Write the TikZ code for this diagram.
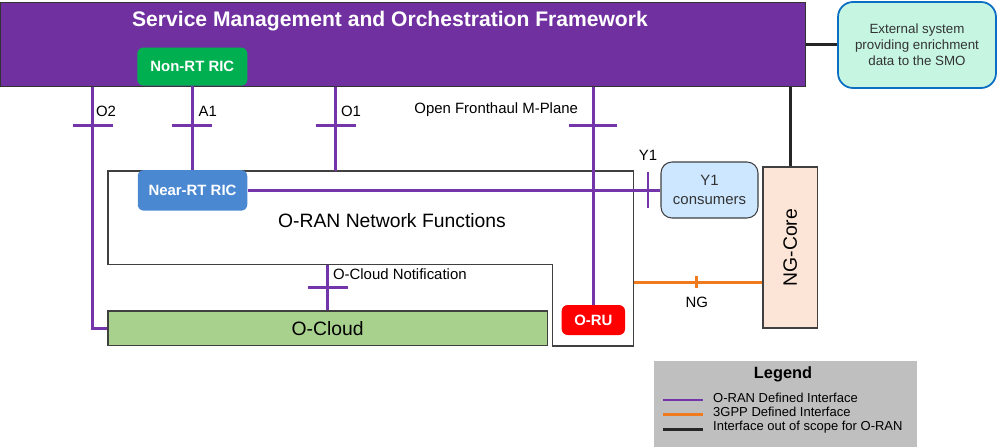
\documentclass[tikz,border=0pt]{standalone}
\usepackage{fontspec}
\setmainfont{Liberation Sans}
\usepackage{xcolor}
\usepackage{tikz}
\usetikzlibrary{positioning}
\definecolor{smopurple}{HTML}{7030A0}
\definecolor{ifpurple}{HTML}{7434AA}
\definecolor{gpporange}{HTML}{F07A1E}
\definecolor{nonrtgreen}{HTML}{00B050}
\definecolor{nearrtblue}{HTML}{4A88D2}
\definecolor{orured}{HTML}{FF0000}
\definecolor{cloudgreen}{HTML}{A9D18E}
\definecolor{corepeach}{HTML}{FCE4D6}
\definecolor{yonefill}{HTML}{CCE7FF}
\definecolor{extfill}{HTML}{C6F6E2}
\definecolor{extblue}{HTML}{0A6EC2}
\definecolor{legendgray}{HTML}{BFBFBF}
\definecolor{boxgray}{HTML}{404040}
\newcommand{\smotitle}[1]{{\fontsize{12}{14}\selectfont\bfseries\color{white}#1}}
\newcommand{\riclabel}[1]{{\fontsize{8.5}{10}\selectfont\bfseries\color{white}#1}}
\newcommand{\biglabel}[1]{{\fontsize{11}{13}\selectfont#1}}
\newcommand{\iflabel}[1]{{\fontsize{8.5}{10}\selectfont#1}}
\newcommand{\legtitle}[1]{{\fontsize{9.3}{11}\selectfont\bfseries#1}}
\newcommand{\legtext}[1]{{\fontsize{7.4}{9}\selectfont#1}}
\newcommand{\extfont}{\fontsize{7.6}{9.2}\selectfont\color{black!80}}
\newcommand{\yonefont}{\fontsize{8.5}{10.4}\selectfont\color{black!80}}
\newcommand{\htick}[2]{\draw[oranif] ([xshift=-#2]#1) -- ([xshift=#2]#1);}
\newcommand{\vtick}[3]{\draw[#3] ([yshift=-#2]#1) -- ([yshift=#2]#1);}
\tikzset{
  oranif/.style={draw=ifpurple, line width=1.6pt},
  gppif/.style={draw=gpporange, line width=1.6pt},
  outif/.style={draw=black!85, line width=1.6pt},
  plainbox/.style={draw=boxgray, line width=0.6pt},
  ricbox/.style={rounded corners=1.2mm, inner sep=0pt},
  lbl/.style={inner sep=0pt}
}

\begin{document}
\begin{tikzpicture}[x=1cm, y=-1cm]
\useasboundingbox (0,0) rectangle (19.94,8.94);

% SMO and the boxes beside it
\node[fill=smopurple, draw=black!80, line width=0.6pt, minimum width=16.1cm,
      minimum height=1.68cm, inner sep=0pt, anchor=north west] (smo) at (0,0.04) {};
\node (smotitle) at (7.8,0.42) {\smotitle{Service Management and Orchestration Framework}};
\node[ricbox, fill=nonrtgreen, minimum width=2.2cm, minimum height=0.76cm,
      anchor=south west] (nonrt) at (2.74,1.72) {\riclabel{Non-RT RIC}};
\node[fill=extfill, draw=extblue, line width=1pt, rounded corners=3mm,
      minimum width=3.16cm, minimum height=1.72cm, align=center, font=\extfont]
      (ext) at (18.34,0.9) {External system\\providing enrichment\\data to the SMO};
\node[plainbox, fill=corepeach, minimum width=1.09cm, minimum height=3.22cm,
      inner sep=0pt] (ngcore) at (15.805,4.95) {\rotatebox{90}{\biglabel{NG-Core}}};
\node[plainbox, fill=yonefill, rounded corners=2.2mm, minimum width=1.94cm,
      minimum height=1.12cm, align=center, font=\yonefont] (yone) at (14.19,3.8) {Y1\\consumers};

% network functions area
\node[minimum width=10.5cm, minimum height=1.86cm, inner sep=0pt, anchor=north west] (nf) at (2.16,3.42) {};
\draw[plainbox] (nf.north west) -- (nf.north east) -- ++(0,3.5) -- ++(-1.62,0) |- (nf.south west) -- cycle;
\node (nflabel) at (7.84,4.42) {\biglabel{O-RAN Network Functions}};
\node[ricbox, fill=nearrtblue, minimum width=2.19cm, minimum height=0.81cm] (nearrt) at (3.85,3.807) {\riclabel{Near-RT RIC}};
\node[plainbox, fill=cloudgreen, minimum width=8.786cm, minimum height=0.694cm,
      inner sep=0pt] (ocloud) at (6.553,6.567) {\biglabel{O-Cloud}};
\node[ricbox, fill=orured, minimum width=1.266cm, minimum height=0.6cm] (oru) at (11.867,6.4) {\riclabel{O-RU}};

% interfaces
\coordinate (o2tick) at (1.854,2.514);
\coordinate (a1tick) at (nonrt.south |- o2tick);
\coordinate (o1tick) at (6.714,2.514);
\coordinate (ofhtick) at (oru.north |- o2tick);
\coordinate (y1tick) at (nearrt.east -| 12.96,0);
\coordinate (ocntick) at (ocloud.north |- 0,5.746);
\coordinate (ngtick) at (13.934,5.646);

\draw[oranif] (smo.south -| o2tick) -- (o2tick) |- (ocloud.west);
\draw[oranif] (nonrt.south) -- (nearrt.north -| nonrt.south);
\draw[oranif] (smo.south -| o1tick) -- (nf.north -| o1tick);
\draw[oranif] (smo.south -| oru.north) -- (oru.north);
\draw[oranif] (nearrt.east) -- (nearrt.east -| yone.west);
\draw[oranif] (nf.south -| ocloud.north) -- (ocloud.north);
\draw[gppif] (nf.east |- ngtick) -- (ngcore.west |- ngtick);
\draw[outif] (smo.east) -- (smo.east -| ext.west);
\draw[outif] (smo.south -| ngcore.north) -- (ngcore.north);

\htick{o2tick}{0.4cm}
\htick{a1tick}{0.4cm}
\htick{o1tick}{0.4cm}
\htick{ofhtick}{0.48cm}
\htick{ocntick}{0.4cm}
\vtick{y1tick}{0.36cm}{oranif}
\vtick{ngtick}{0.12cm}{gppif}

\node[lbl, above right=0.17cm and 0.06cm of o2tick] (o2lbl) {\iflabel{O2}};
\node[lbl, above right=0.17cm and 0.12cm of a1tick] (a1lbl) {\iflabel{A1}};
\node[lbl, above right=0.17cm and 0.1cm of o1tick] (o1lbl) {\iflabel{O1}};
\node[lbl, above left=0.17cm and 0.3cm of ofhtick] (ofhlbl) {\iflabel{Open Fronthaul M-Plane}};
\node[lbl, above right=0.15cm and 0.1cm of ocntick] (ocnlbl) {\iflabel{O-Cloud Notification}};
\node[lbl, above=0.59cm of y1tick] (y1lbl) {\iflabel{Y1}};
\node[lbl, below=0.28cm of ngtick] (nglbl) {\iflabel{NG}};

% legend
\node[fill=legendgray, minimum width=5.268cm, minimum height=1.714cm, inner sep=0pt,
      anchor=north west] (legend) at (13.066,7.22) {};
\node (legtitle) at (15.66,7.48) {\legtitle{Legend}};
\draw[oranif] (13.266,8.0) -- ++(0.8,0) node[lbl, right=0.17cm, yshift=0.05cm] {\legtext{O-RAN Defined Interface}};
\draw[gppif] (13.266,8.286) -- ++(0.8,0) node[lbl, right=0.17cm, yshift=0.05cm] {\legtext{3GPP Defined Interface}};
\draw[outif] (13.266,8.586) -- ++(0.8,0) node[lbl, right=0.17cm, yshift=0.05cm] {\legtext{Interface out of scope for O-RAN}};
\end{tikzpicture}
\end{document}
